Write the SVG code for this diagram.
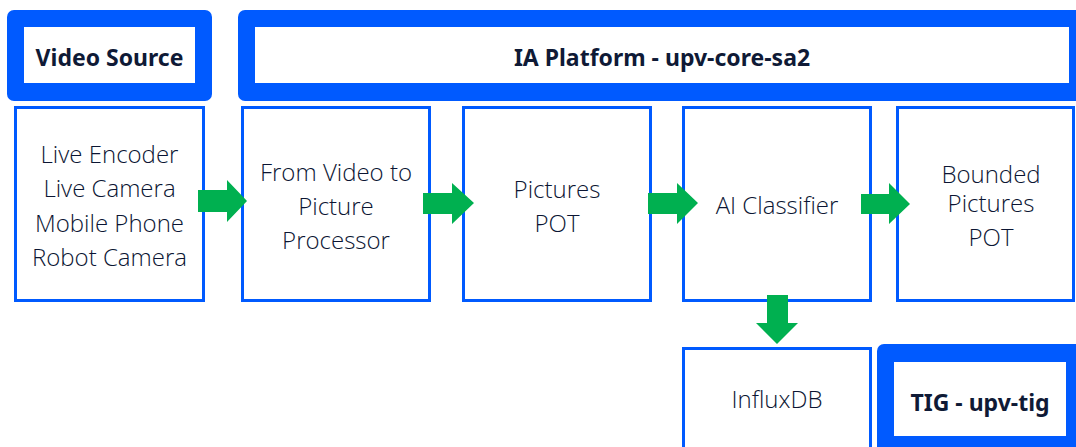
<svg xmlns="http://www.w3.org/2000/svg" width="1076" height="447" viewBox="0 0 1076 447">
<style>
.hdr{fill:#005AFF}
.inner{fill:#fff}
.box{fill:#fff;stroke:#005AFF;stroke-width:3}
.t{font-family:"Open Sans","Noto Sans",sans-serif;font-size:24px;font-weight:300;fill:#0B1533;text-anchor:middle}
.b{font-family:"Noto Sans","Open Sans",sans-serif;font-size:23px;font-weight:bold;fill:#0F1A36;text-anchor:middle}
.arr{fill:#00B050}
</style>
<rect width="1076" height="447" fill="#fff"/>
<g id="video-source-header">
<rect class="hdr" x="7" y="10" width="205" height="91" rx="7"/>
<rect class="inner" x="24" y="27" width="171" height="56"/>
<text class="b" x="109.5" y="66">Video Source</text>
</g>
<g id="ia-platform-header">
<rect class="hdr" x="238" y="10" width="850" height="91" rx="7"/>
<rect class="inner" x="255" y="27" width="814" height="56"/>
<text class="b" x="662" y="66">IA Platform - upv-core-sa2</text>
</g>
<g id="tig-header">
<rect class="hdr" x="877" y="344" width="210" height="110" rx="7"/>
<rect class="inner" x="894" y="362" width="172" height="74"/>
<text class="b" x="980" y="411">TIG - upv-tig</text>
</g>
<g id="sources">
<rect class="box" x="15.5" y="107.5" width="188" height="193"/>
<text class="t" x="109.5" y="163">Live Encoder</text>
<text class="t" x="109.5" y="197">Live Camera</text>
<text class="t" x="109.5" y="232">Mobile Phone</text>
<text class="t" x="109.5" y="266">Robot Camera</text>
</g>
<g id="video-to-picture">
<rect class="box" x="242.5" y="107.5" width="187" height="193"/>
<text class="t" x="336" y="181">From Video to</text>
<text class="t" x="336" y="215">Picture</text>
<text class="t" x="336" y="249">Processor</text>
</g>
<g id="pictures-pot">
<rect class="box" x="463.5" y="107.5" width="187" height="193"/>
<text class="t" x="557" y="198">Pictures</text>
<text class="t" x="557" y="232">POT</text>
</g>
<g id="ai-classifier">
<rect class="box" x="683.5" y="107.5" width="187" height="193"/>
<text class="t" x="777" y="214">AI Classifier</text>
</g>
<g id="bounded-pictures">
<rect class="box" x="897.5" y="107.5" width="176" height="193"/>
<text class="t" x="991" y="183">Bounded</text>
<text class="t" x="991" y="212">Pictures</text>
<text class="t" x="991" y="246">POT</text>
</g>
<g id="influxdb">
<rect class="box" x="683.5" y="348.5" width="187" height="120"/>
<text class="t" x="777" y="408">InfluxDB</text>
</g>
<g id="connectors">
<polygon class="arr" points="198,190 227,190 227,180 247,201 227,222 227,212 198,212"/>
<polygon class="arr" points="423,193 452,193 452,183 474,203 452,224 452,214 423,214"/>
<polygon class="arr" points="648,193 677,193 677,183 698,203 677,224 677,214 648,214"/>
<polygon class="arr" points="861,194 889,194 889,183 910,204 889,224 889,214 861,214"/>
<polygon class="arr" points="767,295 788,295 788,323 798,323 777,344 756,323 767,323"/>
</g>
</svg>
